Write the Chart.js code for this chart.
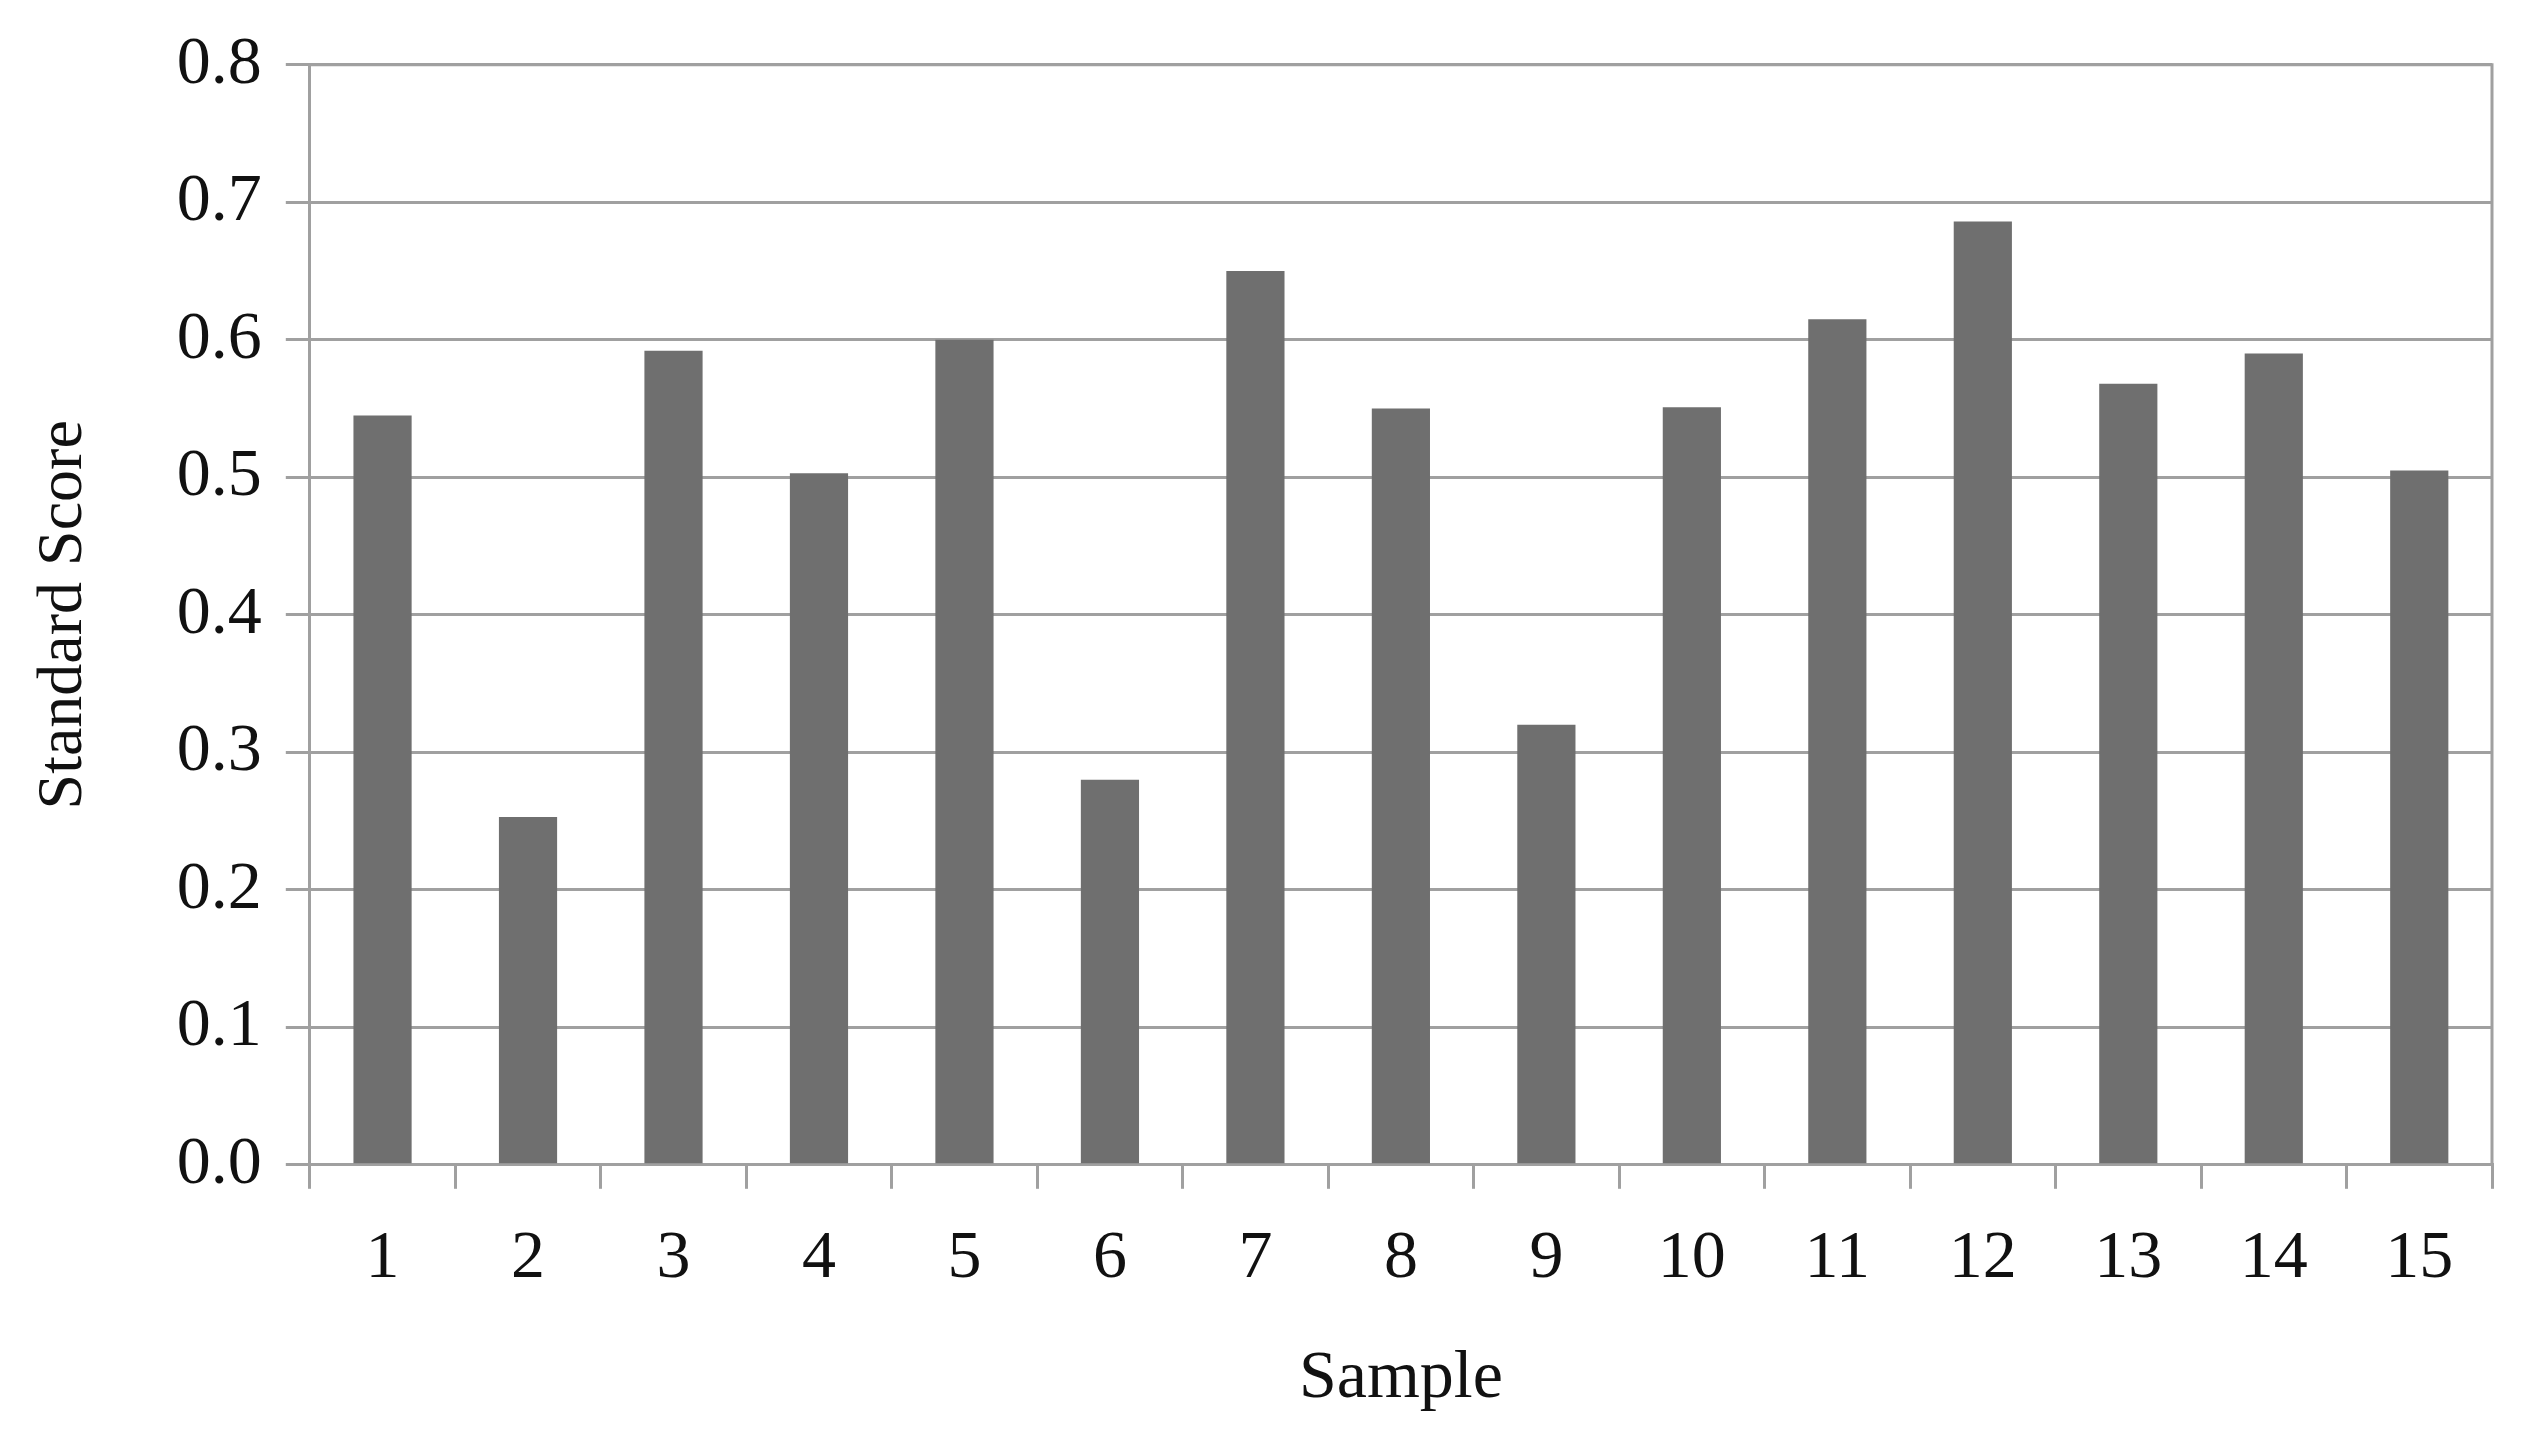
<!DOCTYPE html>
<html><head><meta charset="utf-8">
<script src="https://cdn.jsdelivr.net/npm/chart.js@4"></script>
<style>html,body{margin:0;padding:0;background:#fff}</style>
</head><body>
<canvas id="c" width="2528" height="1444"></canvas>
<script>
const categories = ['1','2','3','4','5','6','7','8','9','10','11','12','13','14','15'];
const scores = [0.545,0.253,0.592,0.503,0.600,0.280,0.650,0.550,0.320,0.551,0.615,0.686,0.568,0.590,0.505];
const yTicks = [0,0.1,0.2,0.3,0.4,0.5,0.6,0.7,0.8];
const FONT = '"Liberation Serif", serif';
const frame = {id:'frame', afterDraw(ch){const a=ch.chartArea,c=ch.ctx;c.save();c.strokeStyle='#a0a0a0';c.lineWidth=3;c.beginPath();c.moveTo(a.left,a.top);c.lineTo(a.right,a.top);c.lineTo(a.right,a.bottom);c.stroke();c.restore();}};
new Chart(document.getElementById('c'), {
  type:'bar',
  data:{labels:categories, datasets:[{data:scores, backgroundColor:'#6f6f6f', barPercentage:0.4, categoryPercentage:1}]},
  options:{
    responsive:false, devicePixelRatio:1, animation:false,
    layout:{padding:{top:28,right:36,left:22,bottom:20}},
    plugins:{legend:{display:false}, tooltip:{enabled:false}},
    scales:{
      x:{
        grid:{offset:true, drawOnChartArea:false, color:'#a0a0a0', lineWidth:3, tickLength:24},
        border:{color:'#a0a0a0', width:3},
        ticks:{color:'#111', font:{family:FONT, size:68}, padding:30},
        title:{display:true, text:'Sample', color:'#111', font:{family:FONT, size:68}, padding:{top:8}}
      },
      y:{
        min:0, max:0.8, afterBuildTicks(s){s.ticks=yTicks.map(v=>({value:v}));},
        grid:{color:'#a0a0a0', lineWidth:3, tickLength:24},
        border:{color:'#a0a0a0', width:3},
        ticks:{color:'#111', font:{family:FONT, size:68}, padding:24, callback:v=>v.toFixed(1)},
        title:{display:true, text:'Standard Score', color:'#111', font:{family:FONT, size:64}, padding:{bottom:50}}
      }
    }
  },
  plugins:[frame]
});
</script>
</body></html>
